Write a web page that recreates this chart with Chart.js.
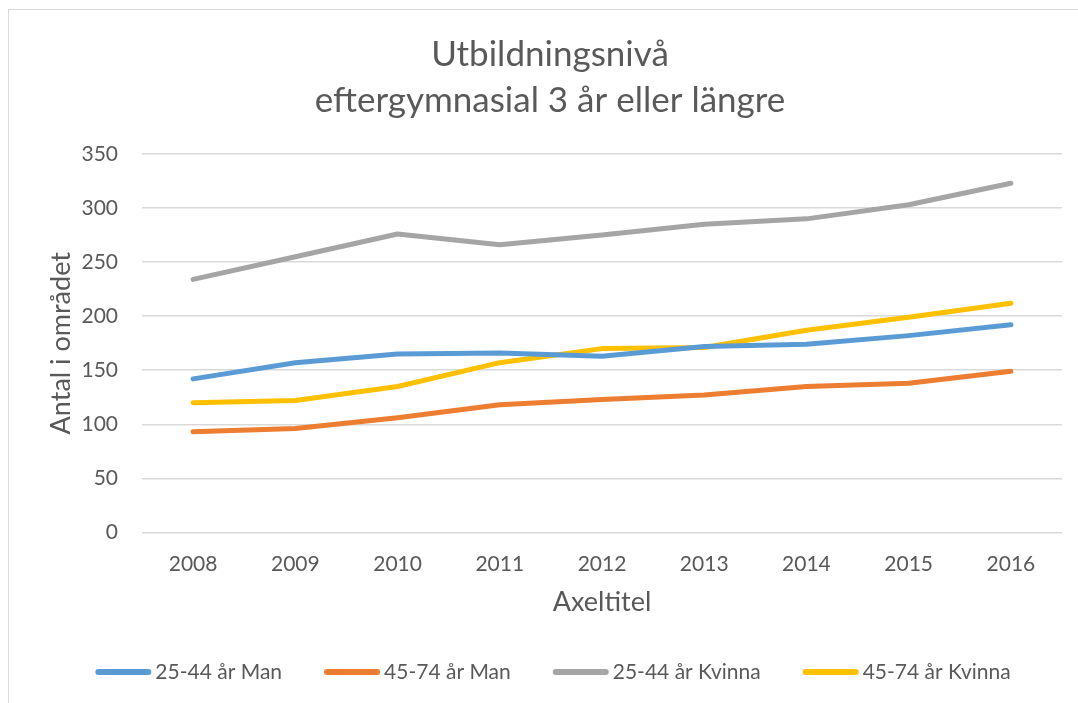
<!DOCTYPE html>
<html>
<head>
<meta charset="utf-8">
<script src="https://cdn.jsdelivr.net/npm/chart.js@4/dist/chart.umd.min.js"></script>
<style>
  html, body { margin: 0; padding: 0; background: #ffffff; }
  #wrap { position: relative; width: 1078px; height: 703px; overflow: hidden; }
  #frame { position: absolute; left: 8px; top: 9px; width: 1200px; height: 800px; border-left: 1.5px solid #d9d9d9; border-top: 1.5px solid #d9d9d9; box-sizing: border-box; }
  canvas { position: absolute; left: 0; top: 0; }
</style>
</head>
<body>
<div id="wrap">
  <div id="frame"></div>
  <canvas id="c" width="1078" height="703"></canvas>
</div>
<script>
const titleLines = ["Utbildningsnivå", "eftergymnasial 3 år eller längre"];
const yTitle = "Antal i området";
const xTitle = "Axeltitel";
const years = ["2008","2009","2010","2011","2012","2013","2014","2015","2016"];
const man25_44 = [142, 157, 165, 166, 163, 172, 174, 182, 192];
const man45_74 = [93, 96, 106, 118, 123, 127, 135, 138, 149];
const kvinna25_44 = [234, 255, 276, 266, 275, 285, 290, 303, 323];
const kvinna45_74 = [120, 122, 135, 157, 170, 171, 187, 199, 212];
const seriesNames = ["25-44 år Man", "45-74 år Man", "25-44 år Kvinna", "45-74 år Kvinna"];
const seriesColors = ["#5b9bd5", "#ed7d31", "#a5a5a5", "#ffc000"];
const yTicks = [0, 50, 100, 150, 200, 250, 300, 350];

const FONT = "Lato, 'Open Sans', sans-serif";
const TXT = "#595959";
const seriesData = [man25_44, man45_74, kvinna25_44, kvinna45_74];

const datasets = seriesData.map((d, i) => ({
  label: seriesNames[i],
  data: d,
  borderColor: seriesColors[i],
  backgroundColor: seriesColors[i],
  borderWidth: 5,
  pointRadius: 0,
  pointHoverRadius: 0,
  tension: 0,
  borderCapStyle: 'round',
  borderJoinStyle: 'round',
  fill: false
}));

// Legend drawn in Excel style: round-capped line sample close to its label
const excelLegend = {
  id: 'excelLegend',
  afterDraw(chart, args, opts) {
    const ctx = chart.ctx;
    ctx.save();
    ctx.font = opts.fontSize + 'px ' + FONT;
    const items = chart.data.datasets.map(ds => ({
      text: ds.label, color: ds.borderColor,
      w: opts.lineLen + opts.textGap + ctx.measureText(ds.label).width
    }));
    const total = items.reduce((s, it) => s + it.w, 0) + opts.itemGap * (items.length - 1);
    let x = opts.center - total / 2;
    const y = chart.height - opts.fromBottom;
    items.forEach(it => {
      ctx.strokeStyle = it.color;
      ctx.lineWidth = opts.lineWidth;
      ctx.lineCap = 'round';
      ctx.beginPath();
      ctx.moveTo(x + opts.lineWidth / 2, y);
      ctx.lineTo(x + opts.lineLen - opts.lineWidth / 2, y);
      ctx.stroke();
      ctx.fillStyle = TXT;
      ctx.textBaseline = 'middle';
      ctx.textAlign = 'left';
      ctx.fillText(it.text, x + opts.lineLen + opts.textGap, y);
      x += it.w + opts.itemGap;
    });
    ctx.restore();
  }
};

new Chart(document.getElementById('c'), {
  type: 'line',
  data: { labels: years, datasets: datasets },
  plugins: [excelLegend],
  options: {
    responsive: false,
    animation: false,
    layout: { padding: { left: 38, right: 16, top: 12, bottom: 85 } },
    plugins: {
      title: {
        display: true,
        text: titleLines,
        color: TXT,
        font: { family: FONT, size: 35, weight: 'normal', lineHeight: 1.3 },
        padding: { top: 20, bottom: 31 }
      },
      legend: { display: false },
      excelLegend: { fontSize: 21, lineLen: 56, lineWidth: 6, textGap: 4, itemGap: 42, fromBottom: 31, center: 553 },
      tooltip: { enabled: false }
    },
    scales: {
      x: {
        offset: true,
        grid: { display: false, drawTicks: false },
        border: { display: false },
        ticks: { color: TXT, font: { family: FONT, size: 21 }, padding: 19 },
        title: { display: true, text: xTitle, color: TXT, font: { family: FONT, size: 27 }, padding: { top: -10, bottom: 0 } }
      },
      y: {
        min: 0,
        max: 350,
        afterBuildTicks: (scale) => { scale.ticks = yTicks.map(v => ({ value: v })); },
        afterFit: (scale) => { scale.width = 104; },
        grid: { color: '#d9d9d9', lineWidth: 1.5, drawTicks: false },
        border: { display: false },
        ticks: { color: TXT, font: { family: FONT, size: 21 }, padding: 24 },
        title: { display: true, text: yTitle, color: TXT, font: { family: FONT, size: 27 }, padding: { top: 7, bottom: 0 } }
      }
    }
  }
});
</script>
</body>
</html>
